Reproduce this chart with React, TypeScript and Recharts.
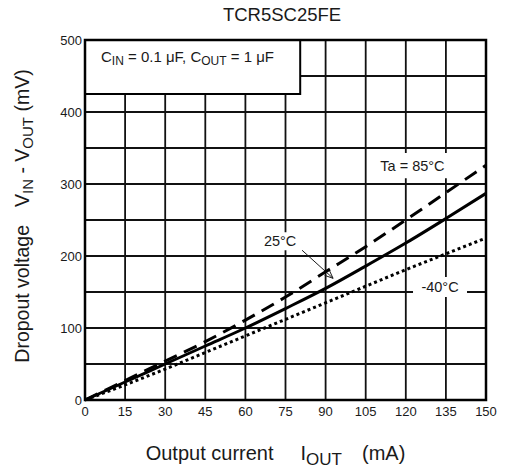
import React from 'react';
import {
  LineChart,
  Line,
  XAxis,
  YAxis,
  CartesianGrid,
  ReferenceArea,
  ReferenceLine,
} from 'recharts';

// Output current (mA)
const currentMa = [0, 15, 30, 45, 60, 75, 90, 105, 120, 135, 150];
// Dropout voltage (mV) per ambient temperature
const dropout85 = [0, 27, 54, 81, 111, 143, 178, 213, 250, 288, 326];
const dropout25 = [0, 25, 50, 75, 100, 127, 155, 186, 218, 252, 287];
const dropoutM40 = [0, 21, 43, 66, 89, 112, 135, 158, 181, 203, 225];

const xTicks = [0, 15, 30, 45, 60, 75, 90, 105, 120, 135, 150];
const yTicks = [0, 100, 200, 300, 400, 500];
const xGrid = [15, 30, 45, 60, 75, 90, 105, 120, 135];
const yGrid = [50, 100, 150, 200, 250, 300, 350, 400, 450];

const data = currentMa.map((c, i) => ({
  current: c,
  t85: dropout85[i],
  t25: dropout25[i],
  tm40: dropoutM40[i],
}));

const FONT = '"Liberation Sans", Arial, Helvetica, sans-serif';
const INK = '#1a1a1a';

const BoxText = (props: any) => {
  const { viewBox, text } = props;
  const cx = viewBox.x + viewBox.width / 2;
  const cy = viewBox.y + viewBox.height / 2;
  return (
    <text x={cx} y={cy + 5} textAnchor="middle" fontSize={14.5} fontFamily={FONT} fill={INK}>
      {text}
    </text>
  );
};

const ConditionText = (props: any) => {
  const { viewBox } = props;
  return (
    <text x={viewBox.x + 16} y={viewBox.y + 22} fontSize={15} fontFamily={FONT} fill={INK}>
      <tspan>C</tspan>
      <tspan fontSize={12} dy={3}>IN</tspan>
      <tspan dy={-3}> = 0.1 μF, C</tspan>
      <tspan fontSize={12} dy={3}>OUT</tspan>
      <tspan dy={-3}> = 1 μF</tspan>
    </text>
  );
};

const XTitle = (props: any) => {
  const { viewBox } = props;
  const cx = viewBox.x + viewBox.width / 2 - 10;
  return (
    <text x={cx} y={viewBox.y + 60} textAnchor="middle" fontSize={20} fontFamily={FONT} fill={INK}>
      <tspan>Output current</tspan>
      <tspan dx={27}>I</tspan>
      <tspan fontSize={17} dy={5}>OUT</tspan>
      <tspan dy={-5} dx={20}>(mA)</tspan>
    </text>
  );
};

const YTitle = (props: any) => {
  const { viewBox } = props;
  const x = viewBox.x + 29;
  const y = viewBox.y + viewBox.height / 2 - 4;
  return (
    <text
      x={x}
      y={y}
      transform={`rotate(-90, ${x}, ${y})`}
      textAnchor="middle"
      fontSize={19.5}
      fontFamily={FONT}
      fill={INK}
    >
      <tspan>Dropout voltage</tspan>
      <tspan dx={18}>V</tspan>
      <tspan fontSize={15} dy={4}>IN</tspan>
      <tspan dy={-4}> - V</tspan>
      <tspan fontSize={15} dy={4}>OUT</tspan>
      <tspan dy={-4}> (mV)</tspan>
    </text>
  );
};

const Arrow = (props: any) => {
  const { x1, y1, x2, y2 } = props;
  const ang = Math.atan2(y2 - y1, x2 - x1);
  const len = 9;
  const spread = 0.4;
  const ax = x2 - len * Math.cos(ang - spread);
  const ay = y2 - len * Math.sin(ang - spread);
  const bx = x2 - len * Math.cos(ang + spread);
  const by = y2 - len * Math.sin(ang + spread);
  return (
    <g>
      <line x1={x1} y1={y1} x2={x2} y2={y2} stroke={INK} strokeWidth={1} />
      <path d={`M${ax},${ay} L${x2},${y2} L${bx},${by}`} fill="none" stroke={INK} strokeWidth={1} />
    </g>
  );
};

export default function App() {
  return (
    <div style={{ position: 'absolute', left: 0, top: 0, width: 505, height: 468, background: '#fff' }}>
      <div
        style={{
          position: 'absolute',
          left: 182,
          top: 6,
          width: 200,
          textAlign: 'center',
          fontFamily: FONT,
          fontSize: 18.5,
          lineHeight: '18px',
          color: INK,
        }}
      >
        TCR5SC25FE
      </div>
      <LineChart width={505} height={468} data={data} margin={{ top: 40, right: 19, left: 0, bottom: 0 }}>
        <CartesianGrid
          horizontalValues={yGrid}
          verticalValues={xGrid}
          stroke="#111"
          strokeWidth={1.8}
        />
        <XAxis
          type="number"
          dataKey="current"
          domain={[0, 150]}
          ticks={xTicks}
          height={68}
          axisLine={false}
          tickLine={false}
          tickSize={0}
          tickMargin={7}
          tick={{ fontSize: 13, fontFamily: FONT, fill: INK }}
          label={<XTitle />}
        />
        <YAxis
          type="number"
          domain={[0, 500]}
          ticks={yTicks}
          width={85}
          axisLine={false}
          tickLine={false}
          tickSize={0}
          tickMargin={3}
          tick={{ fontSize: 13, fontFamily: FONT, fill: INK }}
          label={<YTitle />}
        />
        <ReferenceArea
          x1={0}
          x2={80.5}
          y1={425}
          y2={500}
          fill="#fff"
          fillOpacity={1}
          stroke="#000"
          strokeWidth={2}
          label={<ConditionText />}
        />
        <ReferenceArea x1={107} x2={138} y1={308} y2={343} fill="#fff" fillOpacity={1} stroke="none" label={<BoxText text="Ta = 85°C" />} />
        <ReferenceArea x1={66.3} x2={79.7} y1={208} y2={233} fill="#fff" fillOpacity={1} stroke="none" label={<BoxText text="25°C" />} />
        <ReferenceArea x1={122.7} x2={142.9} y1={143} y2={171} fill="#fff" fillOpacity={1} stroke="none" label={<BoxText text="-40°C" />} />
        <ReferenceLine
          segment={[
            { x: 81.2, y: 208 },
            { x: 92.8, y: 169 },
          ]}
          shape={<Arrow />}
        />
        <ReferenceArea x1={0} x2={150} y1={0} y2={500} fill="none" stroke="#000" strokeWidth={2.5} />
        <Line
          type="monotone"
          dataKey="t85"
          stroke="#000"
          strokeWidth={3}
          strokeDasharray="14 8"
          dot={false}
          isAnimationActive={false}
        />
        <Line
          type="monotone"
          dataKey="t25"
          stroke="#000"
          strokeWidth={3}
          dot={false}
          isAnimationActive={false}
        />
        <Line
          type="monotone"
          dataKey="tm40"
          stroke="#000"
          strokeWidth={3}
          strokeDasharray="3 3"
          dot={false}
          isAnimationActive={false}
        />
      </LineChart>
    </div>
  );
}
